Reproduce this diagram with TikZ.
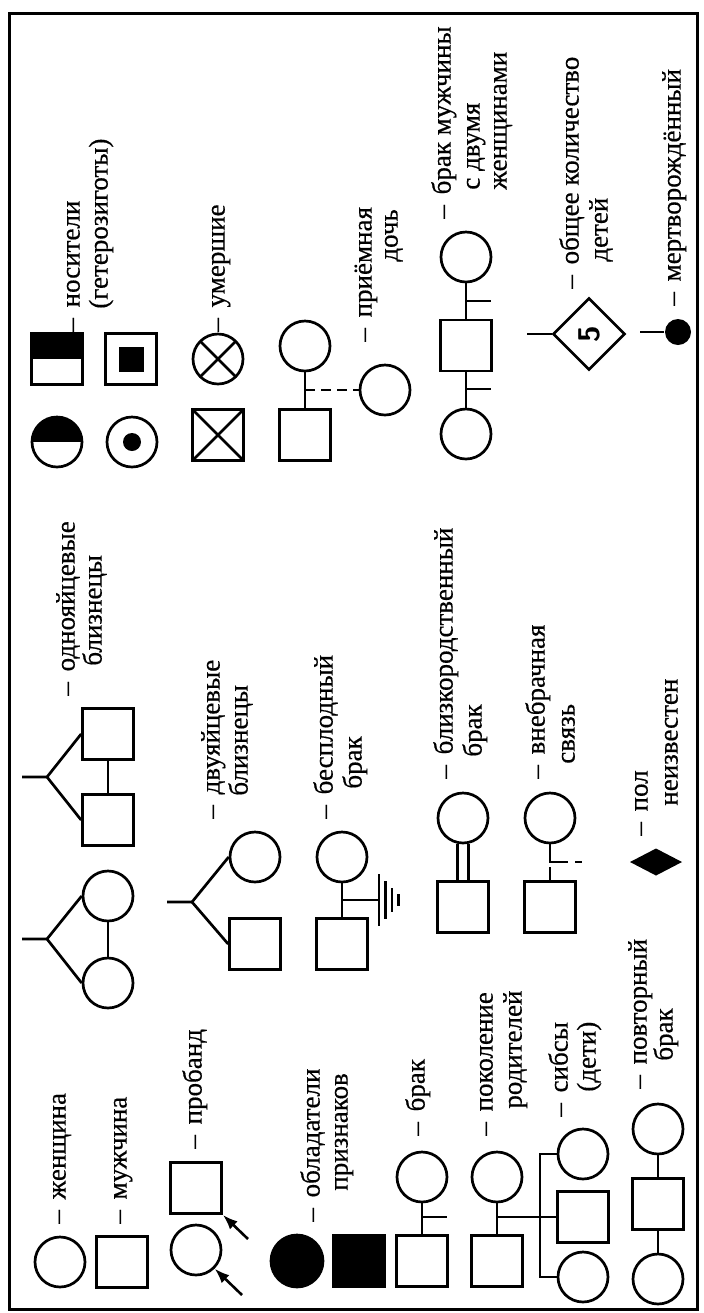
\documentclass[tikz,border=0pt]{standalone}
\usepackage{fontspec}
\setmainfont{Liberation Serif}[FakeBold=0.5]
\usetikzlibrary{shapes.geometric,arrows.meta}
\newcommand\dsh{–\hspace{0.4em}}
\begin{document}
\begin{tikzpicture}[x=0.5pt,y=-0.5pt,line width=1.35pt,
  fem/.style={circle,draw,minimum size=25pt,inner sep=0pt},
  mal/.style={rectangle,draw,minimum size=25.5pt,inner sep=0pt},
  lbl/.style={rotate=90,anchor=mid west,inner sep=0pt,font=\fontsize{13.5}{14.5}\selectfont\rmfamily},
  ar/.style={-{Latex[length=7.5pt,width=5.5pt]},line width=1.3pt},
  halfblack/.style={path picture={\fill (path picture bounding box.north west) rectangle (path picture bounding box.east);}},
  crossed/.style={path picture={\draw (path picture bounding box.north west) -- (path picture bounding box.south east) (path picture bounding box.north east) -- (path picture bounding box.south west);}}]
\useasboundingbox (0,0) rectangle (703,1313);
\draw[line width=1.5pt] (9,13) rectangle (697,1309);

% --- column 1
\node[fem] (w1) at (60,1262) {};
\node[lbl] (Lw1) at (61,1225) {\dsh женщина};
\node[mal] (m1) at (122,1262) {};
\node[lbl] (Lm1) at (122,1225) {\dsh мужчина};
\node[mal] (ps) at (196,1188) {};
\node[fem] (pc) at (196,1250) {};
\coordinate (pa1) at (248,1239);
\coordinate (pa2) at (242,1295);
\draw[ar] (pa1) -- (ps.south east);
\draw[ar] (pa2) -- (pc.south east);
\node[lbl] (Lp) at (197,1150) {\dsh пробанд};
\node[fem,fill,minimum size=26pt] (af) at (297,1261) {};
\node[mal,fill] (am) at (359,1261) {};
\node[lbl] (La1) at (315,1223) {\dsh обладатели};
\node[lbl] (La2) at (343,1192) {признаков};
\node[fem] (bc) at (422,1177) {};
\node[mal] (bs) at (422,1261) {};
\draw (bc) -- (bs);
\coordinate (bt) at (447,1217);
\draw (bc.south |- bt) -- (bt);
\node[lbl] (Lb) at (420,1137) {\dsh брак};
\node[fem] (gc) at (497,1177) {};
\node[mal] (gs) at (497,1261) {};
\draw (gc) -- (gs);
\node[fem] (s1) at (583,1154) {};
\node[mal] (s2) at (583,1217) {};
\node[fem] (s3) at (583,1277) {};
\draw (gc.south |- s2) -- (s2.west);
\coordinate (sv) at (540,1217);
\draw (s1.west) -- (sv |- s1) -- (sv |- s3) -- (s3.west);
\node[lbl] (Lg1) at (488,1137) {\dsh поколение};
\node[lbl] (Lg2) at (517,1110) {родителей};
\node[lbl] (Ls1) at (563,1118) {\dsh сибсы};
\node[lbl] (Ls2) at (591,1093) {(дети)};
\node[fem] (r1) at (658,1129) {};
\node[mal] (r2) at (658,1204) {};
\node[fem] (r3) at (658,1279) {};
\draw (r1) -- (r2) -- (r3);
\node[lbl] (Lr1) at (642,1090) {\dsh повторный};
\node[lbl] (Lr2) at (668,1062) {брак};

% --- column 2
\node[fem] (tf1) at (108,896) {};
\node[fem] (tf2) at (108,983) {};
\draw (tf1) -- (tf2);
\coordinate (tfr) at (22,939);
\coordinate (tfb) at (47,939);
\draw (tfr) -- (tfb) -- (tf1.west);
\draw (tfb) -- (tf2.west);
\node[mal] (q1) at (108,734) {};
\node[mal] (q2) at (108,820) {};
\draw (q1) -- (q2);
\coordinate (qr) at (22,777);
\coordinate (qb) at (47,777);
\draw (qr) -- (qb) -- (q1.west);
\draw (qb) -- (q2.west);
\node[lbl] (Lt1) at (70,697) {\dsh однояйцевые};
\node[lbl] (Lt2) at (97,667) {близнецы};
\node[fem] (dc) at (255,857) {};
\node[mal] (ds) at (255,944) {};
\coordinate (dr) at (167,902);
\coordinate (db) at (192,902);
\draw (dr) -- (db) -- (dc.west);
\draw (db) -- (ds.west);
\node[lbl] (Ld1) at (215,820) {\dsh двуяйцевые};
\node[lbl] (Ld2) at (243,797) {близнецы};
\node[fem] (ic) at (342,857) {};
\node[mal] (is) at (342,944) {};
\draw (ic) -- (is);
\coordinate (ig) at (379,900);
\draw (ic.south |- ig) -- (ig);
\draw (379,874) -- (379,926);
\draw (385.5,881) -- (385.5,919);
\draw (392,888) -- (392,912);
\draw (398.5,894) -- (398.5,906);
\node[lbl] (Li1) at (328,820) {\dsh бесплодный};
\node[lbl] (Li2) at (357,790) {брак};
\node[fem] (kc) at (463,818) {};
\node[mal] (ks) at (463,907) {};
\draw ([xshift=-2.75pt]kc.south) -- ([xshift=-2.75pt]ks.north);
\draw ([xshift=2.75pt]kc.south) -- ([xshift=2.75pt]ks.north);
\node[lbl] (Lk1) at (448,780) {\dsh близкородственный};
\node[lbl] (Lk2) at (477,758) {брак};
\node[fem] (ec) at (550,818) {};
\node[mal] (es) at (550,907) {};
\coordinate (e1) at (550,862);
\coordinate (e2) at (568,862);
\coordinate (e3) at (575,862);
\coordinate (e4) at (582,862);
\coordinate (e5) at (550,867);
\draw (ec.south) -- (e1) -- (e2);
\draw (e3) -- (e4);
\draw (e5) -- (es.north);
\node[lbl] (Le1) at (540,780) {\dsh внебрачная};
\node[lbl] (Le2) at (570,765) {связь};
\fill (630,862) -- (656,848.5) -- (682,862) -- (656,875.5) -- cycle;
\node[lbl] (Lu1) at (643,837) {\dsh пол};
\node[lbl] (Lu2) at (673,807) {неизвестен};

% --- column 3
\node[fem,halfblack] (hc) at (57,442) {};
\node[mal,halfblack] (hs) at (57,359) {};
\node[lbl] (Lh1) at (75,333) {\dsh носители};
\node[lbl] (Lh2) at (103,310) {(гетерозиготы)};
\node[fem] (oc) at (132,442) {};
\node[circle,fill,minimum size=9pt,inner sep=0pt] (od) at (oc) {};
\node[mal] (os) at (131,359) {};
\node[rectangle,fill,minimum size=12.5pt,inner sep=0pt] (oi) at (os) {};
\node[mal,crossed] (xs) at (218,435) {};
\node[fem,crossed] (xc) at (218,359) {};
\node[lbl] (Lx) at (220,333) {\dsh умершие};
\node[fem] (ac) at (305,346) {};
\node[mal] (as) at (305,435) {};
\draw (ac) -- (as);
\node[fem] (ad) at (385,390) {};
\draw[dash pattern=on 5pt off 3pt] (ac.south |- ad) -- (ad.west);
\node[lbl] (Lad1) at (367,343) {\dsh приёмная};
\node[lbl] (Lad2) at (393,263) {дочь};
\node[fem] (wc1) at (466,257) {};
\node[mal] (ws) at (466,345.5) {};
\node[fem] (wc2) at (466,434) {};
\draw (wc1) -- (ws) -- (wc2);
\coordinate (wt1) at (491,301);
\coordinate (wt2) at (491,389);
\draw (ws.center |- wt1) -- (wt1);
\draw (ws.center |- wt2) -- (wt2);
\node[lbl] (Lw1b) at (446,220) {\dsh брак мужчины};
\node[lbl] (Lw2b) at (475,191) {с двумя};
\node[lbl] (Lw3b) at (502,191) {женщинами};
\node[diamond,draw,minimum size=36pt,inner sep=0pt] (dd) at (589,334) {\rotatebox{90}{\fontsize{15}{15}\selectfont\sffamily\bfseries 5}};
\coordinate (dst) at (527,334);
\draw (dst) -- (dd.west);
\node[lbl] (Ldd1) at (574,290) {\dsh общее количество};
\node[lbl] (Ldd2) at (603,263) {детей};
\node[circle,fill,minimum size=13pt,inner sep=0pt] (sb) at (678,332) {};
\coordinate (sbt) at (640,332);
\draw (sbt) -- (sb.west);
\node[lbl] (Lsb) at (676,307) {\dsh мертворождённый};
\end{tikzpicture}
\end{document}
